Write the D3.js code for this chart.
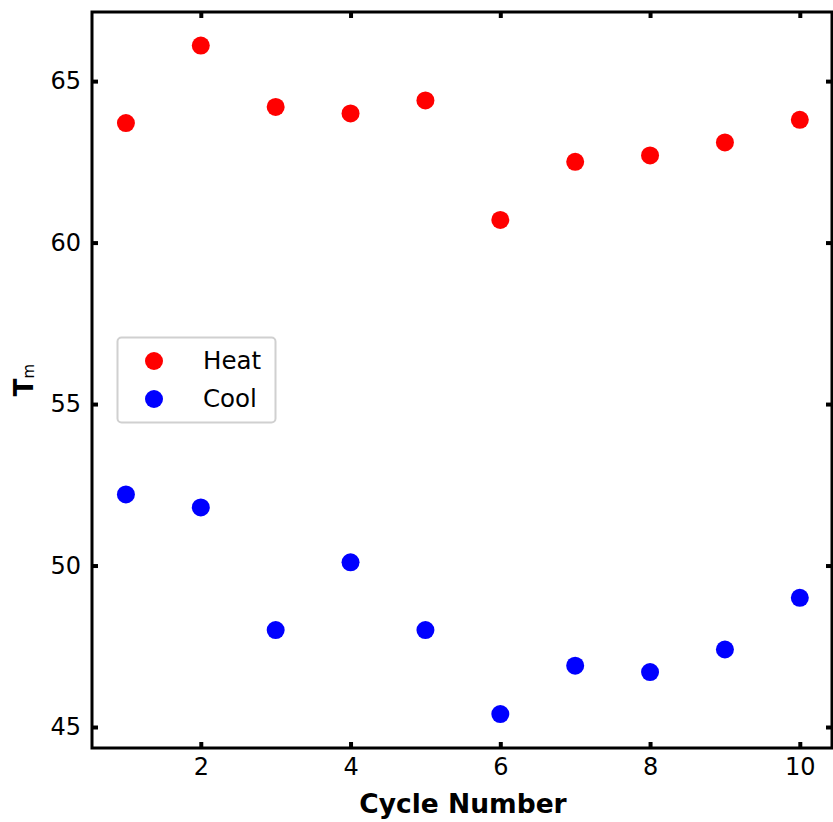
<!DOCTYPE html>
<html>
<head>
<meta charset="UTF-8">
<script src="https://cdn.jsdelivr.net/npm/d3@7"></script>
<style>
  body { margin: 0; background: #fff; }
  text { font-family: "DejaVu Sans", sans-serif; }
</style>
</head>
<body>
<div id="chart"></div>
<script>
// data
const cycles = [1, 2, 3, 4, 5, 6, 7, 8, 9, 10]
const heat = [63.7, 66.1, 64.2, 64.0, 64.4, 60.7, 62.5, 62.7, 63.1, 63.8]
const cool = [52.2, 51.8, 48.0, 50.1, 48.0, 45.4, 46.9, 46.7, 47.4, 49.0]
const xTicks = [2, 4, 6, 8, 10]
const yTicks = [45, 50, 55, 60, 65]
const seriesNames = ["Heat", "Cool"]
const seriesColors = ["#ff0000", "#0000ff"]

const width = 833
const height = 822
const margin = { top: 12, right: 1, bottom: 74, left: 92 }

const svg = d3.select("#chart")
    .append("svg")
    .attr("width", width)
    .attr("height", height)

const x = d3.scaleLinear()
    .domain([0.547, 10.43])
    .range([margin.left, width - margin.right])

const y = d3.scaleLinear()
    .domain([44.35, 67.14])
    .range([height - margin.bottom, margin.top])

// ticks pointing inward on all four sides
const tickStyle = g => {
    g.attr("font-size", null).attr("font-family", null)
    g.select(".domain").remove()
    g.selectAll(".tick line").attr("stroke", "#000").attr("stroke-width", 4)
    g.selectAll(".tick text").attr("fill", "#000").style("font-size", "24px")
}

svg.append("g")
    .attr("transform", `translate(0,${height - margin.bottom})`)
    .call(d3.axisBottom(x).tickValues(xTicks).tickSize(-6).tickPadding(10))
    .call(tickStyle)

svg.append("g")
    .attr("transform", `translate(0,${margin.top})`)
    .call(d3.axisTop(x).tickValues(xTicks).tickSize(-6).tickFormat(""))
    .call(tickStyle)

svg.append("g")
    .attr("transform", `translate(${margin.left},0)`)
    .call(d3.axisLeft(y).tickValues(yTicks).tickSize(-6).tickPadding(11))
    .call(tickStyle)

svg.append("g")
    .attr("transform", `translate(${width - margin.right},0)`)
    .call(d3.axisRight(y).tickValues(yTicks).tickSize(-6).tickFormat(""))
    .call(tickStyle)

// frame
svg.append("rect")
    .attr("x", margin.left)
    .attr("y", margin.top)
    .attr("width", width - margin.right - margin.left)
    .attr("height", height - margin.bottom - margin.top)
    .attr("fill", "none")
    .attr("stroke", "#000")
    .attr("stroke-width", 3)

const series = [heat, cool]
series.forEach((vals, i) => {
    svg.append("g")
        .selectAll("circle")
        .data(vals)
        .enter()
        .append("circle")
        .attr("cx", (d, j) => x(cycles[j]))
        .attr("cy", d => y(d))
        .attr("r", 9)
        .attr("fill", seriesColors[i])
})

// axis titles
svg.append("text")
    .attr("x", 463)
    .attr("y", 813)
    .attr("text-anchor", "middle")
    .style("font-size", "26.5px")
    .style("font-weight", "bold")
    .text("Cycle Number")

const yl = svg.append("text")
    .attr("transform", "translate(33,380) rotate(-90)")
    .attr("text-anchor", "middle")
    .style("font-size", "26px")
    .style("font-weight", "bold")
yl.append("tspan").text("T")
yl.append("tspan").attr("dy", 1).style("font-size", "15px").style("font-weight", "normal").text("m")

// legend
const legend = svg.append("g")
legend.append("rect")
    .attr("x", 117.5)
    .attr("y", 337.5)
    .attr("width", 158)
    .attr("height", 85)
    .attr("rx", 4)
    .attr("fill", "#fff")
    .attr("stroke", "#d0d0d0")
    .attr("stroke-width", 2)

seriesNames.forEach((name, i) => {
    legend.append("circle")
        .attr("cx", 154)
        .attr("cy", 361 + i * 38)
        .attr("r", 9)
        .attr("fill", seriesColors[i])
    legend.append("text")
        .attr("x", 203)
        .attr("y", 369 + i * 38)
        .style("font-size", "24.5px")
        .text(name)
})
</script>
</body>
</html>
